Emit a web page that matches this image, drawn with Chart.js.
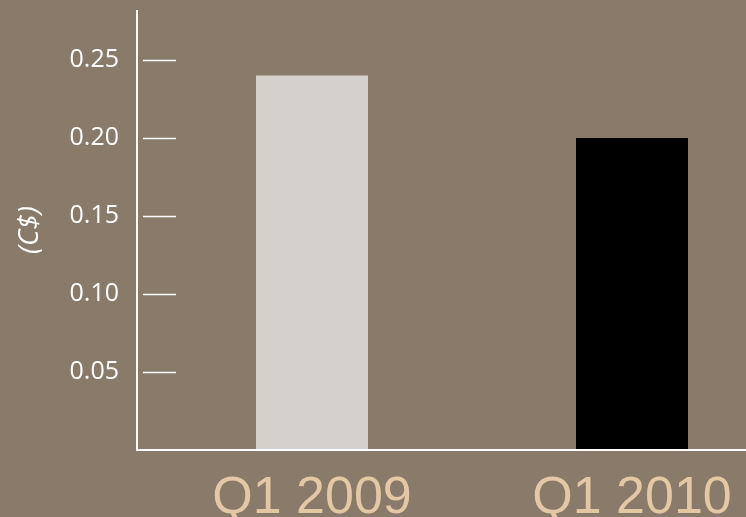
<!DOCTYPE html>
<html>
<head>
<meta charset="utf-8">
<script src="https://cdn.jsdelivr.net/npm/chart.js@4"></script>
<style>
  html, body { margin: 0; padding: 0; background: #8a7a69; }
  #wrap { width: 746px; height: 517px; overflow: hidden; position: relative; }
  #box { width: 792px; height: 517px; }
</style>
</head>
<body>
<div id="wrap"><div id="box"><canvas id="myChart"></canvas></div></div>
<script>
var categories = ['Q1 2009', 'Q1 2010'];
var values = [0.24, 0.20];
var barColors = ['#d4d0cb', '#000000'];
var tickValues = [0.05, 0.10, 0.15, 0.20, 0.25];
var yTitle = '(C$)';

// axis lines + short ticks sitting right of the y axis
var axisLines = {
    id: 'axisLines',
    afterDraw: function(chart) {
        var c = chart.ctx, a = chart.chartArea, y = chart.scales.y;
        var ax = a.left - 15;
        c.save();
        c.strokeStyle = '#ffffff';
        c.lineWidth = 2;
        c.beginPath();
        c.moveTo(ax, a.top);
        c.lineTo(ax, a.bottom);
        c.lineTo(chart.width, a.bottom);
        c.stroke();
        c.lineWidth = 1.5;
        tickValues.forEach(function(v) {
            var py = Math.round(y.getPixelForValue(v)) + 0.5;
            c.beginPath();
            c.moveTo(ax + 6, py);
            c.lineTo(ax + 39, py);
            c.stroke();
        });
        c.restore();
    }
};

var ctx = document.getElementById('myChart').getContext('2d');
var chart = new Chart(ctx, {
    type: 'bar',
    data: {
        labels: categories,
        datasets: [{
            data: values,
            backgroundColor: barColors,
            borderWidth: 0,
            barPercentage: 0.35,
            categoryPercentage: 1.0
        }]
    },
    options: {
        responsive: true,
        maintainAspectRatio: false,
        animation: false,
        layout: { padding: { top: 10, right: 0, left: 0, bottom: 0 } },
        plugins: {
            legend: { display: false },
            tooltip: { enabled: false }
        },
        scales: {
            x: {
                grid: { display: false },
                border: { display: false },
                ticks: {
                    color: '#e2c8a5',
                    padding: 9,
                    font: { family: 'Liberation Sans', size: 52 }
                },
                afterFit: function(s) { s.height = 67; }
            },
            y: {
                min: 0,
                max: 0.282,
                grid: { display: false },
                border: { display: false },
                afterBuildTicks: function(s) {
                    s.ticks = tickValues.map(function(v) { return { value: v }; });
                },
                ticks: {
                    color: '#ffffff',
                    padding: 25,
                    font: { family: 'Open Sans', size: 25 },
                    callback: function(v) { return v.toFixed(2); }
                },
                title: {
                    display: true,
                    text: yTitle,
                    color: '#ffffff',
                    padding: { top: 13, bottom: 0 },
                    font: { family: 'Open Sans', size: 28, style: 'italic' }
                },
                afterFit: function(s) {
                    s.width = 152;
                    s.paddingTop = 0;
                    s.paddingBottom = 0;
                }
            }
        }
    },
    plugins: [axisLines]
});
</script>
</body>
</html>
